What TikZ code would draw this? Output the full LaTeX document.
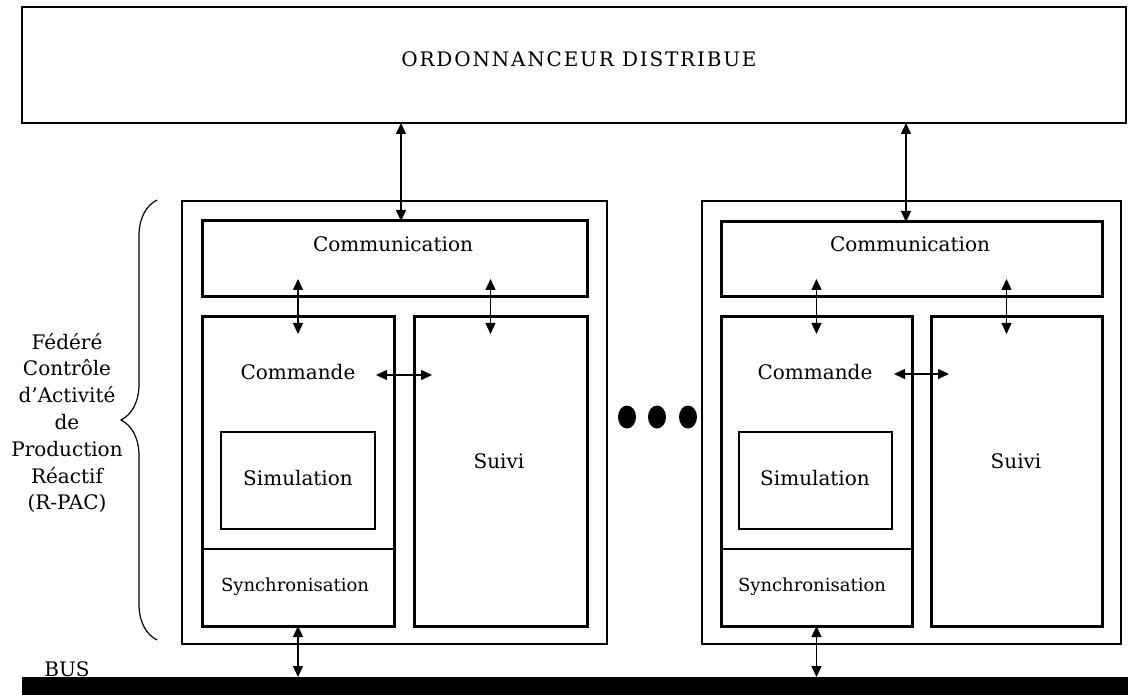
\documentclass[tikz,border=0pt]{standalone}
\usepackage{fontspec}
\setmainfont{DejaVu Serif}
\usepackage{tikz}
\usetikzlibrary{arrows.meta,calc,positioning,shapes.geometric,decorations.pathreplacing}

\begin{document}
\begin{tikzpicture}[x=1pt,y=-1pt,
    every node/.style={outer sep=0pt, inner sep=0pt, font=\fontsize{20}{24}\selectfont},
    thinbox/.style={draw, line width=1.3pt, anchor=north west},
    thickbox/.style={draw, line width=3pt, anchor=north west},
    biarrow/.style={{Triangle[length=11pt,width=10pt]}-{Triangle[length=11pt,width=10pt]}, line width=1.4pt},
    dot/.style={ellipse, fill=black, minimum width=18, minimum height=23}]
  \useasboundingbox (0,0) rectangle (1128,695);

  % ordonnanceur et bus
  \node[thinbox, minimum width=1104, minimum height=116] (Ordo) at (22,7) {};
  \node[anchor=base] (OrdoText) at (579,67) {\addfontfeature{LetterSpace=9}ORDONNANCEUR DISTRIBUE};
  \node[fill=black, anchor=north west, minimum width=1106, minimum height=18] (Bus) at (22,677) {};
  \node[anchor=base] (BusText) at (67,676) {BUS};

  % federe 1
  \node[thinbox, minimum width=425, minimum height=443] (Fed1) at (182,201) {};
  \node[thickbox, minimum width=385, minimum height=76] (Comm1) at (202,221) {};
  \node[thickbox, minimum width=192, minimum height=309] (Cmd1) at (202,317) {};
  \node[thickbox, minimum width=173, minimum height=309] (Sui1) at (414,317) {};
  \node[thinbox, minimum width=154, minimum height=97] (Sim1) at (221,432) {};
  \draw[line width=1.3pt] ($(Cmd1.south west)+(0,-77)$) -- ($(Cmd1.south east)+(0,-77)$);
  \node[anchor=base] (Comm1Text) at (393,252) {Communication};
  \node[anchor=base] (Cmd1Text) at (298,379) {Commande};
  \node[anchor=base] (Sim1Text) at (298,485) {Simulation};
  \node[anchor=base] (Sui1Text) at (499,468) {Suivi};
  \node[anchor=base, font=\fontsize{18}{22}\selectfont] (Syn1Text) at (295,591) {Synchronisation};

  % federe 2
  \node[thinbox, minimum width=419, minimum height=443] (Fed2) at (702,201) {};
  \node[thickbox, minimum width=381, minimum height=75] (Comm2) at (721,222) {};
  \node[thickbox, minimum width=191, minimum height=309] (Cmd2) at (721,317) {};
  \node[thickbox, minimum width=171, minimum height=309] (Sui2) at (931,317) {};
  \node[thinbox, minimum width=153, minimum height=97] (Sim2) at (739,432) {};
  \draw[line width=1.3pt] ($(Cmd2.south west)+(0,-77)$) -- ($(Cmd2.south east)+(0,-77)$);
  \node[anchor=base] (Comm2Text) at (910,252) {Communication};
  \node[anchor=base] (Cmd2Text) at (815,379) {Commande};
  \node[anchor=base] (Sim2Text) at (815,485) {Simulation};
  \node[anchor=base] (Sui2Text) at (1016,468) {Suivi};
  \node[anchor=base, font=\fontsize{18}{22}\selectfont] (Syn2Text) at (812,591) {Synchronisation};

  % points de suspension
  \node[dot] (Dot1) at (627,417) {};
  \node[dot] (Dot2) at (657,417) {};
  \node[dot] (Dot3) at (688,417) {};

  % accolade R-PAC
  \coordinate (BraceBot) at (157,640);
  \coordinate (BraceTop) at (157,200);
  \draw[decorate, decoration={brace, amplitude=36pt}, line width=1.2pt] (BraceBot) -- (BraceTop);
  \node[align=center, font=\fontsize{20}{26.8}\selectfont] (Rpac) at (67,423)
    {Fédéré\\Contrôle\\d’Activité\\de\\Production\\Réactif\\(R-PAC)};

  % fleches
  \draw[biarrow] (Ordo.south -| 401,0) -- (Comm1.north -| 401,0);
  \draw[biarrow] (Ordo.south -| 906,0) -- (Comm2.north -| 906,0);
  \draw[biarrow] ($(Comm1.south -| Cmd1.north)+(0,-18)$) -- ($(Cmd1.north)+(0,17)$);
  \draw[biarrow] ($(Comm1.south -| Sui1.north)+(-10,-18)$) -- ($(Sui1.north)+(-10,17)$);
  \draw[biarrow] ($(Cmd1.east |- 0,375)+(-18,0)$) -- ($(Sui1.west |- 0,375)+(18,0)$);
  \draw[biarrow] (Cmd1.south) -- (Bus.north -| Cmd1.south);
  \draw[biarrow] ($(Comm2.south -| Cmd2.north)+(0,-18)$) -- ($(Cmd2.north)+(0,17)$);
  \draw[biarrow] ($(Comm2.south -| Sui2.north)+(-10,-18)$) -- ($(Sui2.north)+(-10,17)$);
  \draw[biarrow] ($(Cmd2.east |- 0,374)+(-18,0)$) -- ($(Sui2.west |- 0,374)+(18,0)$);
  \draw[biarrow] (Cmd2.south) -- (Bus.north -| Cmd2.south);
\end{tikzpicture}
\end{document}
